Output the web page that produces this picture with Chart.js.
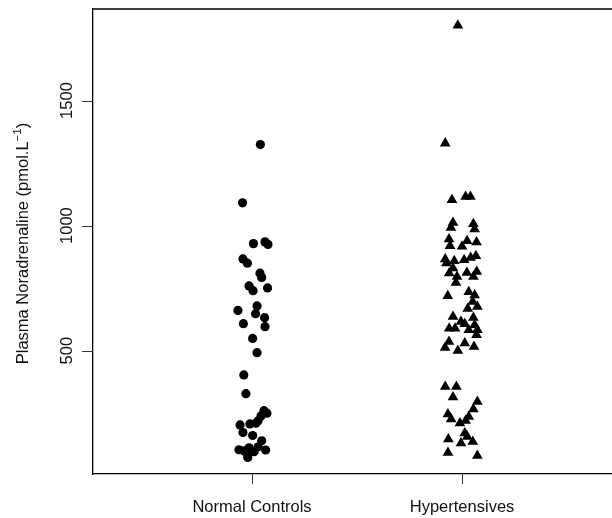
<!DOCTYPE html>
<html lang="en">
<head>
<meta charset="UTF-8">
<title>Plasma Noradrenaline</title>
<script src="https://cdn.jsdelivr.net/npm/chart.js"></script>
<style>
  body { margin: 0; background: #fff; }
  #wrap { width: 612px; height: 518px; }
</style>
</head>
<body>
<div id="wrap"><canvas id="grafico" width="612" height="518"></canvas></div>
<script>
// categorias e valores
const groups = ['Normal Controls', 'Hypertensives'];
const yTicks = [500, 1000, 1500];

// Normal Controls: deslocamento horizontal (jitter) e valor
const ncJitter = [0.040, -0.045, 0.007, 0.062, 0.076, -0.043, -0.022, 0.038, 0.046, -0.014,
  0.005, 0.074, 0.024, -0.067, 0.017, 0.060, 0.062, -0.041, 0.003, 0.024,
  -0.039, -0.029, 0.071, 0.057, 0.043, 0.029, 0.019, -0.010, -0.057, -0.043,
  0.003, 0.046, -0.062, -0.039, -0.014, 0.010, 0.065, -0.020, 0.029, -0.026];
const ncValues = [1324, 1091, 928, 935, 925, 867, 850, 810, 793, 759,
  740, 751, 679, 661, 648, 632, 596, 608, 549, 492,
  403, 328, 250, 260, 239, 220, 210, 207, 203, 173,
  161, 140, 104, 100, 112, 96, 103, 73, 116, 91];

// Hypertensives
const htJitter = [-0.020, -0.080, -0.048, 0.017, 0.040, -0.043, -0.053, 0.054, 0.060, -0.062,
  -0.057, 0.024, 0.000, 0.069, -0.080, -0.074, -0.037, 0.010, 0.041, 0.066,
  -0.061, -0.043, -0.024, 0.023, 0.070, 0.054, -0.029, -0.068, 0.032, 0.060,
  0.051, 0.073, 0.027, -0.043, 0.054, -0.005, -0.061, -0.033, 0.013, 0.032,
  0.060, 0.073, 0.069, -0.062, -0.081, -0.020, 0.013, 0.057, -0.080, -0.027,
  -0.043, 0.073, 0.054, -0.067, -0.052, 0.032, 0.017, -0.010, -0.065, 0.013,
  0.025, -0.005, 0.051, -0.067, 0.073];
const htValues = [1800, 1329, 1103, 1116, 1116, 1012, 992, 1007, 986, 946,
  919, 939, 917, 934, 866, 850, 859, 863, 872, 879,
  810, 830, 796, 812, 816, 796, 772, 719, 735, 722,
  696, 676, 668, 636, 632, 616, 589, 589, 607, 583,
  603, 583, 563, 536, 512, 500, 530, 516, 356, 356,
  314, 296, 266, 246, 226, 236, 220, 210, 146, 170,
  156, 130, 136, 92, 80];

const fonte = '"Liberation Sans", Arial, Helvetica, sans-serif';

function montarPontos(grupo, jitter, valores) {
    let pontos = [];
    for (let i = 0; i < valores.length; i++) {
        pontos.push({ x: grupo + jitter[i], y: valores[i] });
    }
    return pontos;
}

// desenha a linha de cima, as marcas dos eixos, os rotulos do eixo y e o titulo
const moldura = {
    id: 'moldura',
    afterDraw(chart) {
        const ctx = chart.ctx;
        const area = chart.chartArea;
        const x = chart.scales.x;
        const y = chart.scales.y;
        ctx.save();
        ctx.strokeStyle = '#000';
        ctx.lineWidth = 1.3;
        ctx.beginPath();
        ctx.moveTo(area.left, area.top);
        ctx.lineTo(area.right, area.top);
        ctx.stroke();

        // marcas
        ctx.lineWidth = 1;
        ctx.strokeStyle = '#333';
        ctx.beginPath();
        x.ticks.forEach(function (t) {
            const px = Math.round(x.getPixelForValue(t.value)) + 0.5;
            ctx.moveTo(px, area.bottom);
            ctx.lineTo(px, area.bottom + 10);
        });
        y.ticks.forEach(function (t) {
            const py = Math.round(y.getPixelForValue(t.value)) + 0.5;
            ctx.moveTo(area.left, py);
            ctx.lineTo(area.left - 11, py);
        });
        ctx.stroke();

        ctx.fillStyle = '#111';
        ctx.font = '16.5px ' + fonte;
        ctx.textAlign = 'center';
        ctx.textBaseline = 'middle';
        y.ticks.forEach(function (t) {
            const py = y.getPixelForValue(t.value);
            ctx.save();
            ctx.translate(66, py);
            ctx.rotate(-Math.PI / 2);
            ctx.fillText(String(t.value), 0, 1);
            ctx.restore();
        });

        // titulo com sobrescrito
        const parte1 = 'Plasma Noradrenaline (pmol.L';
        const sup = '\u22121';
        const parte2 = ')';
        ctx.font = '16.5px ' + fonte;
        const w1 = ctx.measureText(parte1).width;
        const w3 = ctx.measureText(parte2).width;
        ctx.font = '11.5px ' + fonte;
        const w2 = ctx.measureText(sup).width;
        const total = w1 + w2 + w3;
        ctx.save();
        ctx.translate(28, (area.top + area.bottom) / 2 + 2);
        ctx.rotate(-Math.PI / 2);
        ctx.textAlign = 'left';
        ctx.textBaseline = 'alphabetic';
        let x0 = -total / 2;
        ctx.font = '16.5px ' + fonte;
        ctx.fillText(parte1, x0, 0);
        ctx.font = '11.5px ' + fonte;
        ctx.fillText(sup, x0 + w1, -7);
        ctx.font = '16.5px ' + fonte;
        ctx.fillText(parte2, x0 + w1 + w2, 0);
        ctx.restore();
        ctx.restore();
    }
};

const dados = {
    datasets: [{
        label: groups[0],
        data: montarPontos(1, ncJitter, ncValues),
        pointStyle: 'circle',
        pointRadius: 4.6,
        backgroundColor: '#000',
        borderColor: '#000',
        borderWidth: 0
    }, {
        label: groups[1],
        data: montarPontos(2, htJitter, htValues),
        pointStyle: 'triangle',
        pointRadius: 6.2,
        backgroundColor: '#000',
        borderColor: '#000',
        borderWidth: 0
    }]
};

const config = {
    type: 'scatter',
    data: dados,
    plugins: [moldura],
    options: {
        responsive: false,
        animation: false,
        layout: { autoPadding: false, padding: { top: 9, right: 0, left: 0, bottom: 0 } },
        plugins: { legend: { display: false }, tooltip: { enabled: false } },
        scales: {
            x: {
                type: 'linear',
                min: 0.243,
                max: 2.714,
                afterBuildTicks: function (scale) {
                    scale.ticks = groups.map(function (g, i) { return { value: i + 1 }; });
                },
                afterFit: function (scale) { scale.height = 44; },
                ticks: {
                    autoSkip: false,
                    maxRotation: 0,
                    padding: 14,
                    color: '#111',
                    font: { family: fonte, size: 16.5 },
                    callback: function (v) { return groups[v - 1]; }
                },
                grid: { display: false, drawOnChartArea: false, drawTicks: true, tickLength: 10 },
                border: { display: true, color: '#000', width: 1.3 }
            },
            y: {
                type: 'linear',
                min: 7,
                max: 1866,
                afterBuildTicks: function (scale) {
                    scale.ticks = yTicks.map(function (v) { return { value: v }; });
                },
                afterFit: function (scale) { scale.width = 93; },
                ticks: { display: false },
                grid: { display: false, drawOnChartArea: false, drawTicks: true, tickLength: 11 },
                border: { display: true, color: '#000', width: 1.3 }
            }
        }
    }
};

let myChart = new Chart(document.getElementById('grafico'), config);
</script>
</body>
</html>
